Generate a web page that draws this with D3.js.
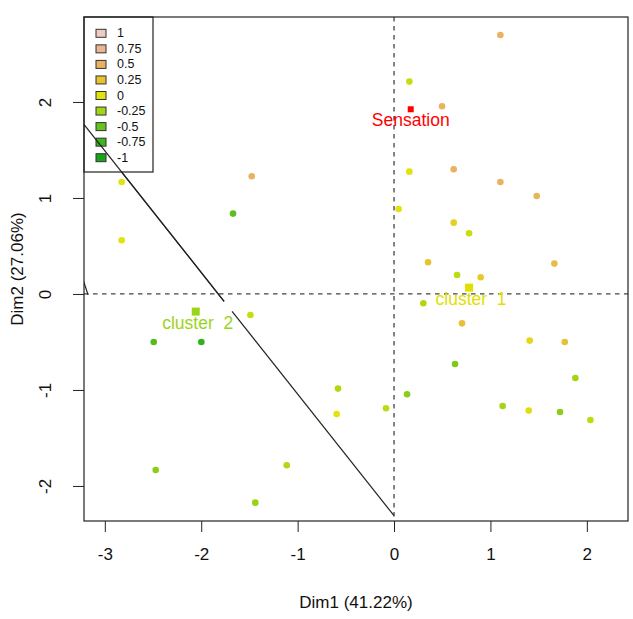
<!DOCTYPE html>
<html>
<head>
<meta charset="utf-8">
<script src="https://cdn.jsdelivr.net/npm/d3@7"></script>
<style>
  html, body { margin: 0; padding: 0; background: #fff; }
  svg { display: block; font-family: "Liberation Sans", Arial, sans-serif; }
</style>
</head>
<body>
<svg id="chart" width="633" height="619"></svg>
<script>
// ---------- data ----------
const pointX = [-2.825, -1.476, -1.670, -2.825, 1.103, 0.159, 0.498, 0.159, 0.619, 1.103,
  1.480, 0.048, 0.619, 0.778, 0.353, 1.663, 0.654, 0.899, 0.304, 0.705,
  1.407, 1.771, 0.633, 1.881, 0.135, -0.083, 1.127, 1.397, 1.722, 2.037,
  -1.490, -2.493, -1.999, -0.581, -0.595, -2.472, -1.113, -1.439];
const pointY = [1.167, 1.226, 0.837, 0.559, 2.698, 2.212, 1.955, 1.274, 1.299, 1.167,
  1.021, 0.885, 0.743, 0.632, 0.330, 0.316, 0.198, 0.174, -0.097, -0.306,
  -0.486, -0.500, -0.729, -0.875, -1.045, -1.191, -1.167, -1.215, -1.229, -1.3125,
  -0.219, -0.500, -0.500, -0.986, -1.250, -1.833, -1.784, -2.174];
const pointValue = [0.0, 0.5, -0.55, 0.0, 0.5, -0.1, 0.5, 0.0, 0.5, 0.5,
  0.45, 0.0, 0.15, -0.1, 0.25, 0.35, -0.15, 0.2, -0.2, 0.3,
  0.1, 0.3, -0.4, -0.25, -0.35, -0.15, -0.25, 0.05, -0.35, -0.15,
  -0.1, -0.6, -0.8, -0.2, 0.0, -0.35, -0.2, -0.3];

const legendLevels = ["1", "0.75", "0.5", "0.25", "0", "-0.25", "-0.5", "-0.75", "-1"];
const legendValues = [1, 0.75, 0.5, 0.25, 0, -0.25, -0.5, -0.75, -1];
const paletteStops = [-1, -0.75, -0.5, -0.25, 0, 0.25, 0.5, 0.75, 1];
const paletteColors = ["#1aa21a", "#3bb41e", "#66c21e", "#a2d614", "#e2e20c", "#e6c430", "#e9b262", "#ebb591", "#efcbc2"];

const specialLabels = ["Sensation", "cluster  1", "cluster  2"];
const specialX = [0.173, 0.778, -2.057];
const specialY = [1.924, 0.066, -0.184];
const specialColors = ["#ff0000", "#e0e000", "#9ad41a"];
const specialSize = [6, 8, 8];

// boundary line segments (data coordinates)
const segX1 = [-3.30, -1.680, -3.30];
const segY1 = [1.872, -0.181, 0.38];
const segX2 = [-1.763, 0.0, -3.174];
const segY2 = [-0.076, -2.310, -0.010];

const xTicks = [-3, -2, -1, 0, 1, 2];
const yTicks = [-2, -1, 0, 1, 2];
const xTitle = "Dim1 (41.22%)";
const yTitle = "Dim2 (27.06%)";

// ---------- layout ----------
const svg = d3.select("#chart");
const pL = 84, pR = 628, pT = 17, pB = 521;
const x = d3.scaleLinear().domain([-3.216, 2.427]).range([pL, pR]);
const y = d3.scaleLinear().domain([-2.365, 2.885]).range([pB, pT]);
const color = d3.scaleLinear().domain(paletteStops).range(paletteColors);
const fmt = d => String(d);

svg.append("defs").append("clipPath").attr("id", "clip")
  .append("rect").attr("x", pL).attr("y", pT).attr("width", pR - pL).attr("height", pB - pT);

// axes
const xAxis = svg.append("g").attr("transform", `translate(0,${pB})`)
  .call(d3.axisBottom(x).tickValues(xTicks).tickSize(11).tickPadding(16).tickFormat(fmt));
xAxis.select(".domain").remove();
xAxis.selectAll("line").attr("stroke", "#222");
xAxis.selectAll("text").attr("font-size", 17).attr("fill", "#111").attr("font-family", "Liberation Sans, Arial, sans-serif");

const yAxis = svg.append("g").attr("transform", `translate(${pL},0)`)
  .call(d3.axisLeft(y).tickValues(yTicks).tickSize(11).tickFormat(fmt));
yAxis.select(".domain").remove();
yAxis.selectAll("line").attr("stroke", "#222");
yAxis.selectAll("text")
  .attr("font-size", 17).attr("fill", "#111").attr("font-family", "Liberation Sans, Arial, sans-serif")
  .attr("text-anchor", "middle").attr("dy", null)
  .attr("x", 0).attr("y", 0)
  .attr("transform", `translate(${45 - pL},0) rotate(-90)`)
  .attr("dominant-baseline", "central");

// titles
svg.append("text").attr("x", (pL + pR) / 2).attr("y", 608)
  .attr("text-anchor", "middle").attr("font-size", 17).attr("fill", "#111").text(xTitle);
svg.append("text").attr("transform", `translate(23,${(pT + pB) / 2}) rotate(-90)`)
  .attr("text-anchor", "middle").attr("font-size", 17).attr("fill", "#111").text(yTitle);

const plot = svg.append("g").attr("clip-path", "url(#clip)");

// reference dashed lines
plot.append("line").attr("x1", x(0)).attr("x2", x(0)).attr("y1", pT).attr("y2", pB)
  .attr("stroke", "#444").attr("stroke-width", 1.3).attr("stroke-dasharray", "4.5,4.5");
plot.append("line").attr("x1", pL).attr("x2", pR).attr("y1", y(0)).attr("y2", y(0))
  .attr("stroke", "#444").attr("stroke-width", 1.3).attr("stroke-dasharray", "4.5,4.5");

// boundary segments
plot.selectAll("line.seg").data(segX1.map((d, i) => i)).enter().append("line")
  .attr("class", "seg")
  .attr("x1", i => x(segX1[i])).attr("y1", i => y(segY1[i]))
  .attr("x2", i => x(segX2[i])).attr("y2", i => y(segY2[i]))
  .attr("stroke", "#222").attr("stroke-width", 1.2);

// points
plot.selectAll("circle.pt").data(pointX.map((d, i) => i)).enter().append("circle")
  .attr("class", "pt")
  .attr("cx", i => x(pointX[i])).attr("cy", i => y(pointY[i])).attr("r", 3.3)
  .attr("fill", i => color(pointValue[i]));

// special squares & labels
specialLabels.forEach((lab, i) => {
  const s = specialSize[i];
  plot.append("rect").attr("x", x(specialX[i]) - s / 2).attr("y", y(specialY[i]) - s / 2)
    .attr("width", s).attr("height", s).attr("fill", specialColors[i]);
  plot.append("text").attr("x", x(specialX[i]) + (i === 0 ? 0 : 2)).attr("y", y(specialY[i]) + 17)
    .attr("text-anchor", "middle").attr("font-size", 17.5)
    .attr("fill", specialColors[i]).style("white-space", "pre").text(lab);
});

// legend
const lg = svg.append("g");
lg.append("rect").attr("x", pL).attr("y", pT).attr("width", 69).attr("height", 155)
  .attr("fill", "#fff").attr("stroke", "#222").attr("stroke-width", 1.2);
legendLevels.forEach((lab, i) => {
  const cy = pT + 16.3 + i * 15.55;
  lg.append("rect").attr("x", 96).attr("y", cy - 4).attr("width", 10).attr("height", 8)
    .attr("fill", color(legendValues[i])).attr("stroke", "#333").attr("stroke-width", 1);
  lg.append("text").attr("x", 117).attr("y", cy).attr("dominant-baseline", "central")
    .attr("font-size", 12.5).attr("fill", "#111").text(lab);
});

// the boundary line crosses the legend in the reference
svg.append("g").attr("clip-path", "url(#clip)").selectAll("line")
  .data([0]).enter().append("line")
  .attr("x1", x(segX1[0])).attr("y1", y(segY1[0]))
  .attr("x2", x(segX2[0])).attr("y2", y(segY2[0]))
  .attr("stroke", "#222").attr("stroke-width", 1.2);

// box
svg.append("rect").attr("x", pL).attr("y", pT).attr("width", pR - pL).attr("height", pB - pT)
  .attr("fill", "none").attr("stroke", "#222").attr("stroke-width", 1.2);
</script>
</body>
</html>
